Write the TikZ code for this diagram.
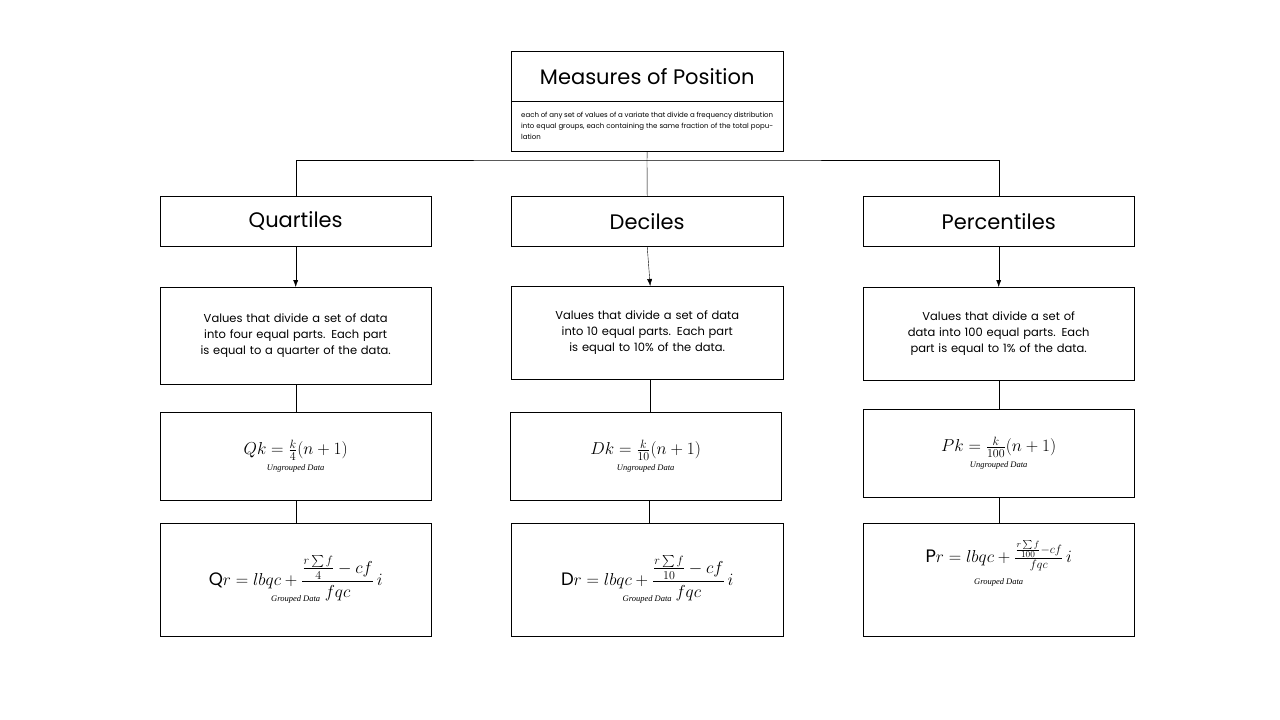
\documentclass[tikz,border=0pt]{standalone}
\usepackage{amsmath}
\usepackage{fontspec}
\setmainfont{Poppins}
\usetikzlibrary{positioning}
\usetikzlibrary{arrows.meta}
\tikzstyle{box} = [draw, thin, inner sep=2pt, anchor=north west]
\tikzstyle{head} = [box, font=\fontsize{21}{24}\selectfont]
\tikzstyle{info} = [box, font=\fontsize{11.5}{16}\selectfont, align=center, text width=250pt]
\tikzstyle{formula} = [box, align=center, font=\fontsize{18}{20}\selectfont]
\tikzstyle{link} = [-{Latex[length=7pt,width=5pt]}]
\newcommand{\tagtext}[1]{{\fontspec{Liberation Serif}\fontsize{8.5}{9}\selectfont\itshape #1}}

\begin{document}
\begin{tikzpicture}[x=1pt,y=-1pt]
	\useasboundingbox (0,0) rectangle (1280,720);
	% top
	\node (title) at(511,51)[head, minimum width=272pt, minimum height=50pt] {Measures of Position};
	\node (desc) at(511,101)[box, minimum width=272pt, minimum height=50pt, text width=252pt, align=justify, font=\fontsize{7}{11}\selectfont]
		{each of any set of values of a variate that divide a frequency distribution into equal groups, each containing the same fraction of the total population};

	% headings
	\node (q) at(160,196)[head, minimum width=271pt, minimum height=50pt] {Quartiles};
	\node (d) at(511,196)[head, minimum width=272pt, minimum height=50pt] {Deciles};
	\node (p) at(863,196)[head, minimum width=271pt, minimum height=50pt] {Percentiles};

	% definitions
	\node (qdef) at(160,287)[info, minimum width=271pt, minimum height=97pt]
		{Values that divide a set of data into four equal parts. Each part is equal to a quarter of the data.};
	\node (ddef) at(511,286)[info, minimum width=272pt, minimum height=93pt]
		{Values that divide a set of data into 10 equal parts. Each part is equal to 10\% of the data.\\[6pt]};
	\node (pdef) at(863,287)[info, minimum width=271pt, minimum height=93pt]
		{Values that divide a set of data into 100 equal parts. Each part is equal to 1\% of the data.\\[6pt]};

	% ungrouped
	\node (qun) at(160,412)[formula, minimum width=271pt, minimum height=88pt]
		{$Qk=\frac{k}{4}(n+1)$\\[-4pt]\tagtext{Ungrouped Data}};
	\node (dun) at(510,412)[formula, minimum width=271pt, minimum height=88pt]
		{$Dk=\frac{k}{10}(n+1)$\\[-4pt]\tagtext{Ungrouped Data}};
	\node (pun) at(863,409)[formula, minimum width=271pt, minimum height=88pt]
		{$Pk=\frac{k}{100}(n+1)$\\[-4pt]\tagtext{Ungrouped Data}};

	% grouped
	\node (qgr) at(160,523)[formula, minimum width=271pt, minimum height=113pt]
		{$\mathrm{Q}r=lbqc+\dfrac{\frac{r\sum f}{4}-cf}{fqc}\,i$\\[-6pt]\tagtext{Grouped Data}};
	\node (dgr) at(511,523)[formula, minimum width=272pt, minimum height=113pt]
		{$\mathrm{D}r=lbqc+\dfrac{\frac{r\sum f}{10}-cf}{fqc}\,i$\\[-6pt]\tagtext{Grouped Data}};
	\node (pgr) at(863,523)[formula, minimum width=271pt, minimum height=113pt]
		{$\mathrm{P}r=lbqc+\frac{\frac{r\sum f}{100}-cf}{fqc}\,i$\\[2pt]\tagtext{Grouped Data}\\[14pt]};

	% connectors
	\coordinate (bar) at(647,160);
	\draw (desc.south) -- (bar);
	\draw (q.north) |- (bar) -| (p.north);
	\draw (bar) -- (d.north);
	\draw[link] (q.south) -- (q.south |- qdef.north);
	\draw[link] (d.south) -- ([xshift=3pt]d.south |- ddef.north);
	\draw[link] (p.south) -- (p.south |- pdef.north);
	\draw (qdef) -- (qun);
	\draw ([xshift=3pt]ddef.south) -- ([xshift=3pt]ddef.south |- dun.north);
	\draw (pdef) -- (pun);
	\draw (qun) -- (qgr);
	\draw ([xshift=3pt]dun.south) -- ([xshift=3pt]dun.south |- dgr.north);
	\draw (pun) -- (pgr);
\end{tikzpicture}
\end{document}
